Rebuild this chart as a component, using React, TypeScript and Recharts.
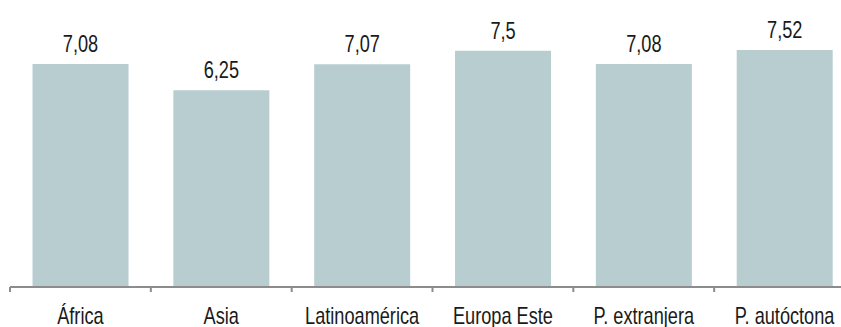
import React from 'react';
import { BarChart, Bar, XAxis, YAxis, LabelList } from 'recharts';

const categories = ['África', 'Asia', 'Latinoamérica', 'Europa Este', 'P. extranjera', 'P. autóctona'];
const values = [7.08, 6.25, 7.07, 7.5, 7.08, 7.52];

const data = categories.map((name, i) => ({ name, value: values[i] }));

const FONT = '"Liberation Sans", Arial, sans-serif';
const SQUEEZE = 0.79;

const BoundaryTick = (props: any) => {
  const { x, y, payload } = props;
  const off = payload && payload.offset ? payload.offset : 0;
  return (
    <g>
      <line x1={x - off} y1={y} x2={x - off} y2={y + 5} stroke="#8c8c8c" strokeWidth={2} />
      <text
        transform={`translate(${x},${y + 37}) scale(${SQUEEZE},1)`}
        x={0}
        y={0}
        textAnchor="middle"
        fontFamily={FONT}
        fontSize={23}
        fill="#1a1a1a"
      >
        {payload.value}
      </text>
    </g>
  );
};

const ValueLabel = (props: any) => {
  const { x, y, width, value } = props;
  const cx = Number(x) + Number(width) / 2;
  const cy = Number(y) - 12;
  return (
    <text
      transform={`translate(${cx},${cy}) scale(${SQUEEZE},1)`}
      x={0}
      y={0}
      textAnchor="middle"
      fontFamily={FONT}
      fontSize={23}
      fill="#1a1a1a"
    >
      {String(value).replace('.', ',')}
    </text>
  );
};

export default function App() {
  return (
    <div style={{ position: 'absolute', left: 0, top: 0, width: 841, height: 327, overflow: 'hidden', background: '#fff' }}>
      <BarChart
        width={860}
        height={327}
        data={data}
        margin={{ top: 35, right: 5, bottom: 0, left: 10 }}
        barCategoryGap="16%"
      >
        <XAxis
          dataKey="name"
          height={40}
          tickSize={0}
          tickMargin={0}
          tickLine={false}
          axisLine={{ stroke: '#8c8c8c', strokeWidth: 2 }}
          tick={<BoundaryTick />}
          interval={0}
        />
        <YAxis hide domain={[0, 8]} />
        <Bar dataKey="value" fill="#b8cdd0" isAnimationActive={false}>
          <LabelList dataKey="value" content={<ValueLabel />} />
        </Bar>
      </BarChart>
    </div>
  );
}
